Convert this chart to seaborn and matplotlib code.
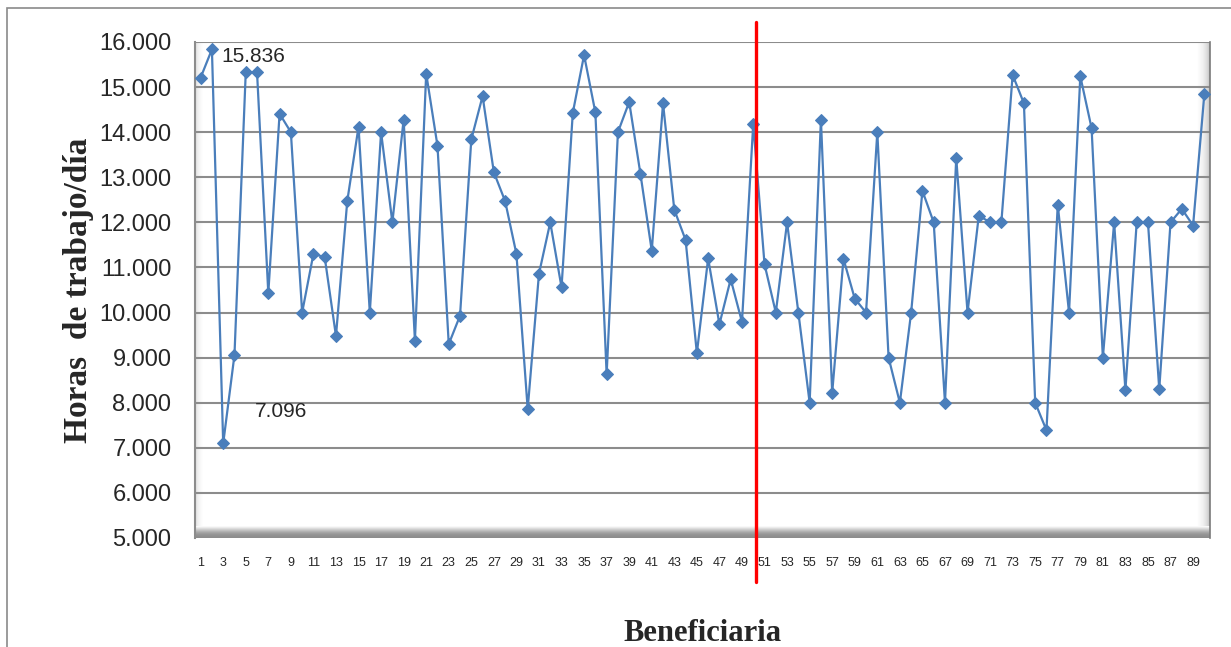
import numpy as np
import pandas as pd
import matplotlib
matplotlib.use("Agg")
import matplotlib.pyplot as plt
import matplotlib.transforms as mtransforms
from matplotlib.patches import Rectangle
import seaborn as sns

# ---- data ----
beneficiaria = list(range(1, 91))
horas = [15.21, 15.836, 7.096, 9.06, 15.33, 15.33, 10.43, 14.41, 14.00, 10.00,
         11.30, 11.23, 9.48, 12.47, 14.12, 10.00, 14.00, 12.00, 14.28, 9.38,
         15.30, 13.70, 9.30, 9.93, 13.84, 14.80, 13.11, 12.47, 11.30, 7.86,
         10.86, 12.00, 10.56, 14.43, 15.71, 14.44, 8.63, 14.00, 14.67, 13.07,
         11.37, 14.64, 12.28, 11.61, 9.10, 11.20, 9.74, 10.74, 9.79, 14.19,
         11.07, 10.00, 12.00, 10.00, 8.00, 14.28, 8.22, 11.19, 10.31, 10.00,
         14.00, 9.00, 8.00, 10.00, 12.70, 12.00, 8.00, 13.43, 10.00, 12.15,
         12.00, 12.00, 15.27, 14.64, 8.00, 7.39, 12.39, 10.00, 15.24, 14.09,
         9.00, 12.00, 8.28, 12.00, 12.00, 8.30, 12.00, 12.30, 11.93, 14.85]
y_ticks = [5, 6, 7, 8, 9, 10, 11, 12, 13, 14, 15, 16]
y_tick_labels = ["5.000", "6.000", "7.000", "8.000", "9.000", "10.000", "11.000",
                 "12.000", "13.000", "14.000", "15.000", "16.000"]
x_tick_values = list(range(1, 90, 2))
annotations = [(2, 15.836, "15.836"), (3, 7.096, "7.096")]
corte = 50.2

df = pd.DataFrame({"Beneficiaria": beneficiaria, "Horas": horas})

sns.set_theme(style="white")
plt.rcParams["font.family"] = ["Liberation Sans", "DejaVu Sans"]

W, H = 1231, 647
fig = plt.figure(figsize=(W / 100, H / 100), dpi=100)
L, R, T, B = 195, 1210, 42, 538
ax = fig.add_axes([L / W, 1 - B / H, (R - L) / W, (B - T) / H])

# outer border
fig.patches.append(Rectangle((7 / W, -0.01), 1.1, 1 - 8 / H + 0.01, transform=fig.transFigure,
                             fill=False, edgecolor="#8a8a8a", linewidth=1.2))

ax.set_xlim(0.5, 90.5)
ax.set_ylim(5, 16)

# 3D-like walls (gradients)
grad = np.linspace(0, 1, 256).reshape(1, -1)
ax.imshow(grad ** 0.6, extent=[0.5, 1.2, 5, 16], aspect="auto", cmap="Greys_r",
          vmin=-2.5, vmax=1.0, zorder=0)
ax.imshow((grad ** 0.5)[:, ::-1], extent=[89.35, 90.5, 5, 16], aspect="auto", cmap="Greys_r",
          vmin=-1.2, vmax=1.0, zorder=0)
gradv = np.linspace(0, 1, 256).reshape(-1, 1)
ax.imshow(gradv ** 2.5, extent=[0.5, 90.5, 5, 5.25], aspect="auto", cmap="Greys_r",
          vmin=-0.9, vmax=1.0, zorder=0.5, origin="lower")

for yv in y_ticks:
    ax.axhline(yv, color="#8c8c8c", linewidth=1.5, zorder=1)

sns.lineplot(data=df, x="Beneficiaria", y="Horas", ax=ax, color="#4a7ebb",
             linewidth=1.6, marker="D", markersize=6, markeredgecolor="#4a7ebb",
             zorder=3)

ax.set_yticks(y_ticks)
ax.set_yticklabels(y_tick_labels, fontsize=17)
ax.set_xticks(x_tick_values)
ax.set_xticklabels([str(v) for v in x_tick_values], fontsize=9)
ax.tick_params(axis="y", direction="out", length=7, color="#8c8c8c", width=1, pad=10)
ax.tick_params(axis="x", length=0, pad=14)

ax.spines["top"].set_visible(False)
ax.spines["right"].set_color("#7a7a7a")
ax.spines["right"].set_linewidth(1.2)
ax.spines["left"].set_color("#8c8c8c")
ax.spines["left"].set_linewidth(1.5)
ax.spines["bottom"].set_visible(False)

ax.set_xlabel("Beneficiaria", fontsize=22, fontweight="bold",
              family=["Liberation Serif", "DejaVu Serif"], labelpad=36)
ax.set_ylabel("Horas  de trabajo/día", fontsize=24, fontweight="bold",
              family=["Liberation Serif", "DejaVu Serif"], labelpad=4)

ax.annotate(annotations[0][2], (annotations[0][0], annotations[0][1]),
            xytext=(7, -5), textcoords="offset points", fontsize=15, va="center")
ax.annotate(annotations[1][2], (annotations[1][0], annotations[1][1]),
            xytext=(23, 23), textcoords="offset points", fontsize=15, va="center")

trans = mtransforms.blended_transform_factory(ax.transData, ax.transAxes)
ax.plot([corte, corte], [(B - 582) / (B - T), (B - 22) / (B - T)], transform=trans,
        color="#ff0000", linewidth=2.4, clip_on=False, zorder=5)

fig.savefig("out.png", dpi=100)
